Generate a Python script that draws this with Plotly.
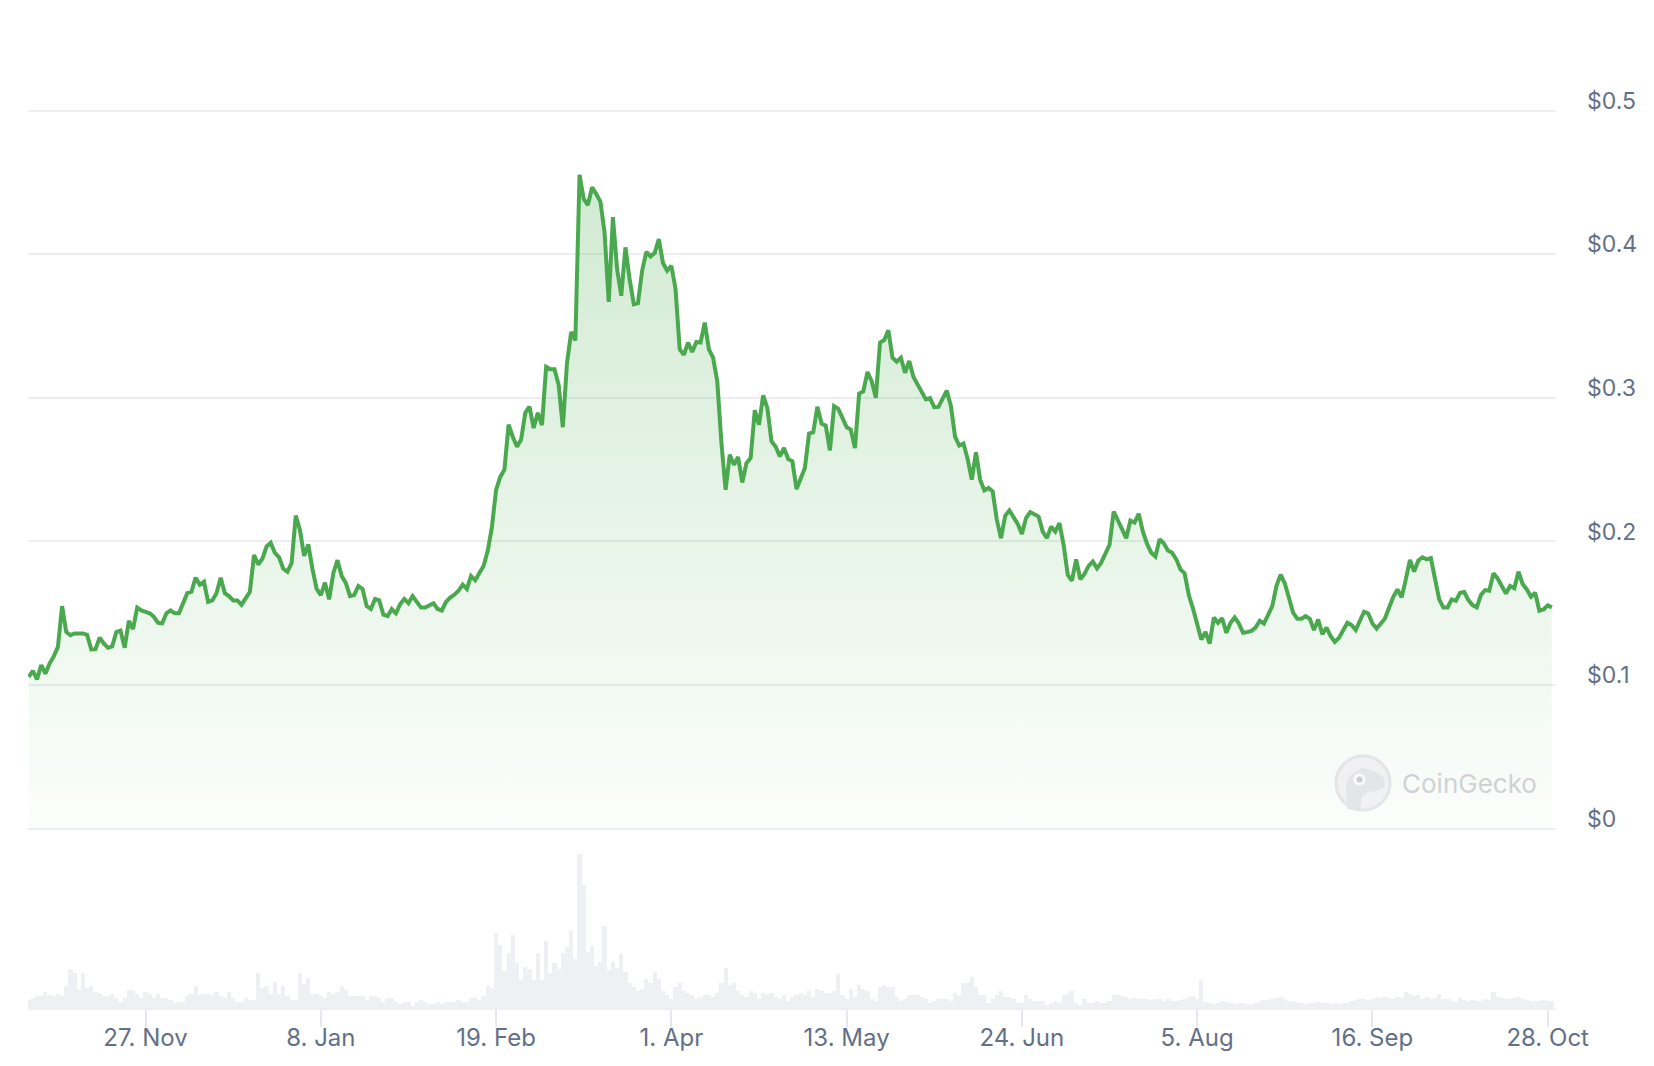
import pandas as pd
import plotly.graph_objects as go

# ---------------- data ----------------
start_date = "2023-10-30"

price = [
    0.1057, 0.110, 0.104, 0.114, 0.108, 0.115, 0.120, 0.1266, 0.155, 0.137,
    0.1348, 0.136, 0.136, 0.136, 0.135, 0.1248, 0.125, 0.133, 0.129, 0.126,
    0.127, 0.137, 0.138, 0.126, 0.1448, 0.139, 0.154, 0.152, 0.151, 0.150,
    0.1476, 0.1434, 0.1430, 0.150, 0.152, 0.150, 0.150, 0.158, 0.164, 0.165,
    0.1748, 0.170, 0.172, 0.158, 0.159, 0.164, 0.1748, 0.164, 0.162, 0.159,
    0.159, 0.156, 0.161, 0.165, 0.1906, 0.184, 0.188, 0.1965, 0.199, 0.192,
    0.189, 0.181, 0.179, 0.185, 0.218, 0.208, 0.190, 0.198, 0.181, 0.167,
    0.1627, 0.1713, 0.1597, 0.178, 0.187, 0.176, 0.171, 0.162, 0.1627, 0.169,
    0.167, 0.155, 0.153, 0.160, 0.159, 0.149, 0.148, 0.153, 0.150, 0.1563,
    0.160, 0.157, 0.162, 0.158, 0.154, 0.154, 0.1555, 0.157, 0.153, 0.152,
    0.158, 0.161, 0.163, 0.1657, 0.170, 0.167, 0.176, 0.173, 0.178, 0.183,
    0.1935, 0.210, 0.236, 0.245, 0.250, 0.2814, 0.273, 0.266, 0.271, 0.2896,
    0.294, 0.279, 0.2896, 0.281, 0.3217, 0.320, 0.320, 0.309, 0.2796, 0.3245,
    0.3459, 0.340, 0.4553, 0.4385, 0.4343, 0.4467, 0.442, 0.4367, 0.415, 0.3668,
    0.4258, 0.3897, 0.3711, 0.4048, 0.3827, 0.3652, 0.366, 0.3885, 0.4017, 0.3985,
    0.4008, 0.4106, 0.3939, 0.3885, 0.392, 0.376, 0.3338, 0.330, 0.3385, 0.332,
    0.3389, 0.3385, 0.3524, 0.3338, 0.328, 0.3116, 0.2686, 0.236, 0.2604, 0.2535,
    0.2588, 0.2411, 0.2546, 0.2581, 0.2914, 0.2814, 0.3017, 0.293, 0.2698, 0.266,
    0.2593, 0.2651, 0.2574, 0.2558, 0.2365, 0.243, 0.2512, 0.2752, 0.2761, 0.2938,
    0.2821, 0.2807, 0.2635, 0.2942, 0.2924, 0.2861, 0.2796, 0.278, 0.2651, 0.3031,
    0.3045, 0.318, 0.3117, 0.3001, 0.3385, 0.3403, 0.3471, 0.328, 0.3252, 0.328,
    0.3175, 0.3257, 0.3147, 0.3094, 0.3047, 0.2989, 0.2998, 0.2935, 0.2937, 0.2993,
    0.3051, 0.2942, 0.2728, 0.2668, 0.2682, 0.2575, 0.2431, 0.2621, 0.2431, 0.2356,
    0.2373, 0.2349, 0.2151, 0.2023, 0.2179, 0.2216, 0.2174, 0.2123, 0.2053, 0.2163,
    0.2205, 0.2191, 0.2174, 0.2069, 0.2023, 0.2104, 0.2069, 0.2128, 0.1976, 0.1767,
    0.1727, 0.1876, 0.1737, 0.1774, 0.183, 0.186, 0.1813, 0.1853, 0.1914, 0.1976,
    0.2209, 0.2139, 0.2086, 0.2023, 0.2146, 0.2132, 0.2193, 0.2069, 0.1983, 0.1922,
    0.1895, 0.2016, 0.1988, 0.1937, 0.1922, 0.1876, 0.1806, 0.1778, 0.1627, 0.1534,
    0.1424, 0.1317, 0.1371, 0.1289, 0.1471, 0.1434, 0.1466, 0.1364, 0.1434, 0.1471,
    0.1429, 0.1364, 0.1369, 0.1378, 0.1401, 0.1448, 0.1429, 0.1494, 0.155, 0.169,
    0.1769, 0.1709, 0.1604, 0.1504, 0.1462, 0.1462, 0.148, 0.1462, 0.1383, 0.1457,
    0.1355, 0.1401, 0.1341, 0.1301, 0.133, 0.1378, 0.1434, 0.1418, 0.1383, 0.1448,
    0.1511, 0.1499, 0.1429, 0.1394, 0.1425, 0.1464, 0.1541, 0.1615, 0.1666, 0.1611,
    0.1736, 0.1871, 0.179, 0.1867, 0.189, 0.1876, 0.1885, 0.1755, 0.1597, 0.1541,
    0.1541, 0.1597, 0.1587, 0.1643, 0.1648, 0.1592, 0.1557, 0.1541, 0.1627, 0.1662,
    0.1657, 0.1778, 0.1743, 0.169, 0.1638, 0.169, 0.1674, 0.179, 0.1704, 0.1666,
    0.1615, 0.1643, 0.1518, 0.1527, 0.1555, 0.1541,
]

# relative traded volume (arbitrary units)
volume = [
    28, 33, 40, 40, 52, 42, 40, 46, 40, 70,
    118, 106, 58, 106, 64, 70, 52, 48, 40, 40,
    46, 34, 22, 34, 58, 58, 46, 34, 52, 46,
    34, 46, 34, 34, 28, 18, 22, 22, 40,
    46, 70, 42, 46, 46, 42, 52, 40, 34, 52,
    34, 22, 22, 34, 28, 28, 106, 64, 70,
    46, 82, 46, 70, 40, 28, 28, 106, 76, 94,
    46, 46, 40, 34, 52, 46, 52, 70, 58, 40,
    40, 40, 40, 28, 40, 40, 34, 22, 34, 34,
    22, 16, 22, 22, 10, 22, 28, 22, 16,
    16, 22, 16, 22, 22, 22, 28, 22, 22,
    34, 34, 28, 40, 70, 64, 226, 190, 112, 166,
    220, 136, 88, 124, 118, 88, 166, 88, 202, 106,
    136, 118, 166, 184, 232, 148,
    457, 367, 169, 187, 127, 139, 247, 115, 139, 121,
    163, 109, 79, 67, 55, 61, 91, 79, 109, 91,
    55, 43, 31, 67, 79, 55, 49, 43, 31, 37,
    43, 43, 37, 49, 79, 121, 73, 79, 55, 43,
    37, 55, 49, 31, 49, 43, 49, 37, 31, 43,
    25, 37, 43, 49, 43, 55, 37, 61, 55, 49,
    49, 55, 103, 43, 31, 61, 37, 73, 61, 55,
    31, 25, 67, 73, 67, 67, 37, 25, 31, 43,
    43, 43, 37, 31, 19, 25, 31, 31, 31, 25,
    49, 43, 79, 79, 97, 67, 43, 43, 19, 31,
    43, 55, 37, 37, 31, 19, 19, 43, 31, 25,
    25, 25, 13, 19, 25, 19, 43, 49, 55, 19,
    13, 31, 19, 19, 25, 19, 19, 25, 43,
    44, 40, 36, 32, 34, 32, 30, 30, 28, 32,
    30, 26, 30, 24, 26, 28, 32, 38, 40, 30,
    88,
    22, 18, 16, 20, 24, 22, 18, 16, 18, 18,
    16, 16, 20, 24, 28, 28, 30, 34, 38,
    30, 26, 24, 22, 18, 16, 18, 20, 22, 18,
    20, 16, 18, 16, 20, 18, 24, 28, 32, 30,
    28, 32, 36, 34, 36, 34, 32, 36, 34,
    50, 46,
    40, 42, 32, 36, 30, 34,
    46,
    32, 30, 26, 22, 34, 28, 26, 28, 24, 26, 30, 28,
    52,
    38, 34, 32, 30, 34, 36, 30, 28, 26, 24, 26, 28, 26, 24,
]

x_tick_dates = ["2023-11-27", "2024-01-08", "2024-02-19", "2024-04-01", "2024-05-13",
                "2024-06-24", "2024-08-05", "2024-09-16", "2024-10-28"]
x_tick_labels = ["27. Nov", "8. Jan", "19. Feb", "1. Apr", "13. May",
                 "24. Jun", "5. Aug", "16. Sep", "28. Oct"]
y_tick_vals = [0, 0.1, 0.2, 0.3, 0.4, 0.5]
y_tick_labels = ["$0", "$0.1", "$0.2", "$0.3", "$0.4", "$0.5"]

dates = pd.date_range(start_date, periods=len(price), freq="D")

FONT = "Inter, Roboto, 'Open Sans', sans-serif"
TEXT = "#627089"
GRID = "#ededf2"
GREEN = "#4aa94e"

fig = go.Figure()

fig.add_trace(go.Bar(
    x=dates, y=volume[:len(dates)], xaxis="x", yaxis="y",
    marker=dict(color="#eff0f4", line=dict(width=0)),
    hoverinfo="skip", showlegend=False,
))

fig.add_trace(go.Scatter(
    x=dates, y=price, xaxis="x", yaxis="y2", mode="lines",
    line=dict(color=GREEN, width=4),
    fill="tozeroy",
    fillgradient=dict(type="vertical",
                      colorscale=[[0, "rgba(76,175,80,0.02)"], [1, "rgba(76,175,80,0.26)"]],
                      start=0, stop=0.455),
    showlegend=False,
))

# the page body has an 8px margin, so the figure is 16px smaller than the window
fig.update_layout(
    width=1638, height=1050,
    margin=dict(l=20, r=90, t=52, b=49, autoexpand=False),
    paper_bgcolor="white", plot_bgcolor="white",
    bargap=0,
    font=dict(family=FONT, color=TEXT, size=23),
    xaxis=dict(
        type="date", automargin=False,
        range=["2023-10-29 20:00", "2024-10-29 23:50"],
        anchor="y",
        tickvals=x_tick_dates, ticktext=x_tick_labels,
        ticks="outside", ticklen=17, tickwidth=2, tickcolor="#e6e8ee",
        ticklabelstandoff=-10,
        showgrid=False, zeroline=False,
        showline=True, linecolor="#eceef2", linewidth=1,
        tickfont=dict(size=24, color=TEXT, family=FONT),
    ),
    yaxis=dict(
        domain=[0, 0.168], range=[0, 470], automargin=False,
        showgrid=False, zeroline=False, showticklabels=False, showline=False,
    ),
    yaxis2=dict(
        domain=[0.18693, 0.96175], range=[-0.002, 0.51], automargin=False,
        anchor="x", side="right",
        tickvals=y_tick_vals, ticktext=y_tick_labels,
        showgrid=True, gridcolor=GRID, gridwidth=2,
        zeroline=False, showline=False, ticks="",
        ticklabelstandoff=30, ticklabelshift=-10,
        tickfont=dict(size=23, color=TEXT, family=FONT),
    ),
)

# CoinGecko watermark (logo + word mark)
fig.add_shape(type="circle", xref="paper", yref="paper",
              x0=0.8560, x1=0.8914, y0=0.2097, y1=0.2666,
              fillcolor="#f1f1f4", line=dict(color="#e4e5ea", width=3),
              layer="above")
fig.add_shape(type="path", xref="paper", yref="paper",
              path=("M 0.8632 0.2110 L 0.8626 0.2360 Q 0.8640 0.2480 0.8730 0.2540 "
                    "Q 0.8830 0.2520 0.8874 0.2434 L 0.8881 0.2350 Q 0.8860 0.2300 0.8770 0.2287 "
                    "L 0.8730 0.2234 L 0.8717 0.2090 Z"),
              fillcolor="#e4e5e9", line=dict(width=0), layer="above")
fig.add_shape(type="circle", xref="paper", yref="paper",
              x0=0.8675, x1=0.8753, y0=0.2355, y1=0.2482,
              fillcolor="#fafafb", line=dict(width=0), layer="above")
fig.add_shape(type="circle", xref="paper", yref="paper",
              x0=0.8694, x1=0.8734, y0=0.2387, y1=0.2450,
              fillcolor="#cdced4", line=dict(width=0), layer="above")
fig.add_annotation(xref="paper", yref="paper", x=0.8979, y=0.2381,
                   text="CoinGecko", showarrow=False, xanchor="left", yanchor="middle",
                   font=dict(family=FONT, size=26, color="#d0d1d7"))

fig.write_html("out.html")
